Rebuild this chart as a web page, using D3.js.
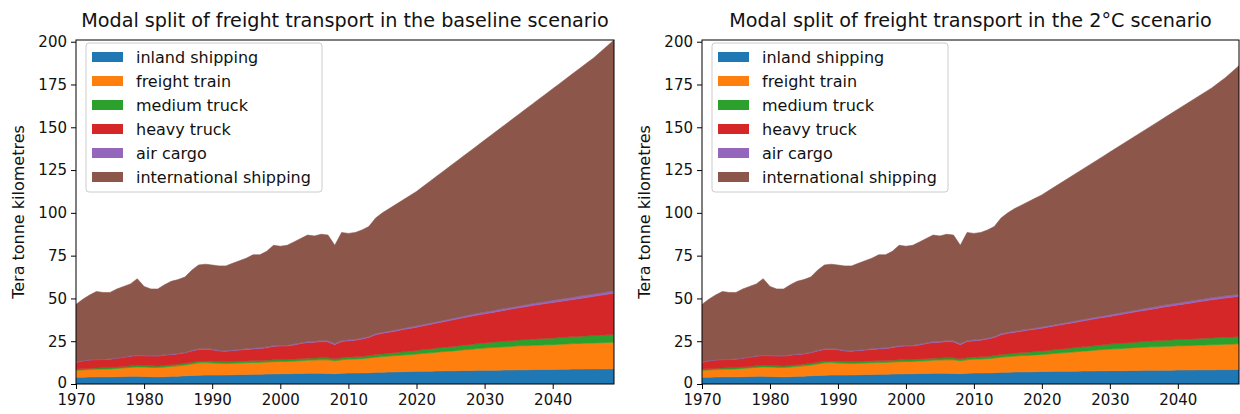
<!DOCTYPE html>
<html>
<head>
<meta charset="utf-8">
<script src="https://cdn.jsdelivr.net/npm/d3@7"></script>
<style>
  html, body { margin: 0; padding: 0; background: #fff; }
  svg { display: block; font-family: "DejaVu Sans", sans-serif; }
</style>
</head>
<body>
<svg id="chart" width="1240" height="414"></svg>
<script>
// ---------------- DATA ----------------
const years = d3.range(1970, 2050);            // 1970 … 2049
const seriesNames = ["inland shipping", "freight train", "medium truck", "heavy truck", "air cargo", "international shipping"];
const seriesColors = ["#1f77b4", "#ff7f0e", "#2ca02c", "#d62728", "#9467bd", "#8c564b"];
const titles = ["Modal split of freight transport in the baseline scenario", "Modal split of freight transport in the 2°C scenario"];
const yLabel = "Tera tonne kilometres";
const xTicks = [1970, 1980, 1990, 2000, 2010, 2020, 2030, 2040];
const yTicks = [0, 25, 50, 75, 100, 125, 150, 175, 200];

// historical part 1970–2015 (shared by both scenarios)
const histInland = [3.9, 4.0, 4.1, 4.2, 4.2, 4.2, 4.3, 4.4, 4.5, 4.6, 4.4, 4.3, 4.2, 4.3, 4.5, 4.6, 4.8, 5.0, 5.1, 5.2, 5.2, 5.2, 5.3, 5.4, 5.5, 5.6, 5.7, 5.7, 5.8, 5.9, 6.0, 6.0, 6.1, 6.2, 6.3, 6.3, 6.3, 6.2, 6.0, 6.3, 6.4, 6.4, 6.5, 6.6, 6.8, 6.9];
const histTrain = [4.1, 4.2, 4.3, 4.4, 4.5, 4.6, 4.8, 5.0, 5.2, 5.4, 5.5, 5.4, 5.4, 5.6, 5.8, 6.0, 6.3, 6.7, 7.3, 7.3, 7.1, 6.9, 6.7, 6.7, 6.8, 6.8, 6.9, 6.9, 7.0, 7.1, 7.2, 7.2, 7.3, 7.4, 7.6, 7.7, 7.8, 7.9, 7.6, 7.8, 8.1, 8.2, 8.3, 8.6, 8.9, 9.1];
const histMedium = [0.7, 0.7, 0.7, 0.8, 0.8, 0.8, 0.8, 0.8, 0.9, 0.9, 0.9, 0.9, 0.9, 0.9, 0.9, 1.0, 1.0, 1.0, 1.0, 1.0, 1.0, 1.0, 1.0, 1.0, 1.0, 1.1, 1.1, 1.1, 1.1, 1.1, 1.1, 1.1, 1.2, 1.2, 1.2, 1.2, 1.2, 1.2, 1.1, 1.2, 1.2, 1.3, 1.3, 1.4, 1.5, 1.6];
const histHeavy = [3.9, 4.6, 4.9, 4.8, 4.8, 4.9, 5.1, 5.4, 5.6, 5.7, 5.7, 5.7, 5.8, 6.0, 6.1, 6.0, 6.1, 6.6, 6.8, 6.8, 6.7, 6.2, 6.2, 6.4, 6.5, 6.7, 6.8, 7.0, 7.3, 7.9, 7.9, 7.9, 8.2, 8.8, 9.2, 9.2, 9.5, 9.3, 8.3, 9.5, 9.5, 9.7, 10.2, 10.6, 11.6, 12.0];
const histAir = [0.2, 0.2, 0.2, 0.2, 0.2, 0.2, 0.2, 0.2, 0.3, 0.3, 0.3, 0.3, 0.3, 0.3, 0.3, 0.3, 0.3, 0.4, 0.4, 0.4, 0.4, 0.4, 0.4, 0.4, 0.4, 0.5, 0.5, 0.5, 0.5, 0.5, 0.5, 0.5, 0.5, 0.5, 0.6, 0.6, 0.6, 0.6, 0.6, 0.6, 0.6, 0.6, 0.6, 0.6, 0.7, 0.7];
const histIntl = [33.7, 35.8, 37.8, 39.6, 39.0, 38.8, 40.3, 41.2, 42.0, 44.6, 40.2, 38.9, 38.9, 40.9, 42.4, 43.1, 44.0, 46.8, 48.9, 49.3, 49.1, 49.3, 49.4, 50.6, 51.8, 52.8, 54.5, 54.3, 55.8, 58.5, 57.8, 58.3, 59.7, 60.9, 62.1, 61.5, 62.1, 61.8, 57.4, 63.1, 62.2, 62.3, 63.1, 64.2, 67.5, 69.7];

// baseline projections 2016–2049
const baseInland = [7.0, 7.1, 7.2, 7.3, 7.4, 7.5, 7.5, 7.6, 7.7, 7.7, 7.8, 7.9, 7.9, 8.0, 8.0, 8.1, 8.1, 8.2, 8.2, 8.3, 8.3, 8.4, 8.4, 8.5, 8.5, 8.6, 8.6, 8.7, 8.7, 8.8, 8.8, 8.8, 8.9, 8.9];
const baseTrain = [9.3, 9.5, 9.7, 9.9, 10.1, 10.4, 10.7, 11.0, 11.3, 11.5, 11.8, 12.1, 12.4, 12.7, 13.0, 13.2, 13.4, 13.6, 13.8, 14.0, 14.1, 14.2, 14.3, 14.4, 14.5, 14.6, 14.8, 14.9, 15.0, 15.1, 15.2, 15.3, 15.4, 15.5];
const baseMedium = [1.7, 1.8, 1.9, 2.0, 2.1, 2.2, 2.3, 2.4, 2.5, 2.6, 2.6, 2.7, 2.8, 2.9, 3.0, 3.1, 3.2, 3.3, 3.3, 3.4, 3.5, 3.6, 3.7, 3.8, 3.8, 3.9, 4.0, 4.1, 4.2, 4.2, 4.3, 4.4, 4.5, 4.6];
const baseHeavy = [12.3, 12.6, 13.0, 13.3, 13.6, 13.9, 14.3, 14.6, 14.9, 15.4, 15.8, 16.1, 16.5, 16.7, 17.0, 17.3, 17.7, 18.0, 18.5, 18.8, 19.2, 19.6, 20.0, 20.3, 20.8, 21.1, 21.4, 21.7, 22.1, 22.5, 22.9, 23.3, 23.6, 24.0];
const baseAir = [0.7, 0.7, 0.7, 0.8, 0.8, 0.8, 0.8, 0.8, 0.9, 0.9, 0.9, 0.9, 1.0, 1.0, 1.0, 1.0, 1.1, 1.1, 1.1, 1.1, 1.2, 1.2, 1.2, 1.2, 1.3, 1.3, 1.3, 1.3, 1.4, 1.4, 1.4, 1.4, 1.5, 1.5];
const baseIntl = [71.5, 73.3, 75.0, 76.7, 78.5, 80.7, 82.9, 85.1, 87.2, 89.4, 91.6, 93.8, 95.9, 98.2, 100.5, 102.8, 105.0, 107.3, 109.6, 111.9, 114.2, 116.5, 118.9, 121.3, 123.6, 126.0, 128.4, 130.8, 133.1, 135.5, 137.9, 140.8, 143.6, 146.5];

// 2°C projections 2016–2049
const twoCInland = [7.0, 7.1, 7.1, 7.2, 7.3, 7.3, 7.4, 7.4, 7.5, 7.5, 7.6, 7.6, 7.7, 7.7, 7.8, 7.8, 7.8, 7.9, 7.9, 8.0, 8.0, 8.0, 8.1, 8.1, 8.2, 8.2, 8.2, 8.3, 8.3, 8.3, 8.4, 8.4, 8.4, 8.5];
const twoCTrain = [9.3, 9.5, 9.6, 9.8, 10.0, 10.2, 10.5, 10.8, 11.0, 11.3, 11.6, 11.9, 12.1, 12.4, 12.6, 12.8, 13.0, 13.2, 13.4, 13.5, 13.7, 13.8, 13.9, 14.0, 14.1, 14.2, 14.3, 14.4, 14.5, 14.6, 14.7, 14.8, 14.9, 15.0];
const twoCMedium = [1.7, 1.8, 1.9, 2.0, 2.0, 2.1, 2.2, 2.3, 2.4, 2.5, 2.5, 2.6, 2.7, 2.8, 2.9, 3.0, 3.0, 3.1, 3.2, 3.3, 3.4, 3.4, 3.5, 3.6, 3.7, 3.7, 3.8, 3.9, 4.0, 4.0, 4.1, 4.2, 4.2, 4.3];
const twoCHeavy = [12.2, 12.4, 12.9, 13.0, 13.3, 13.7, 13.9, 14.2, 14.5, 14.8, 15.1, 15.4, 15.7, 16.0, 16.2, 16.6, 17.1, 17.4, 17.8, 18.2, 18.5, 19.1, 19.5, 19.9, 20.2, 20.7, 21.1, 21.4, 21.8, 22.3, 22.5, 22.8, 23.2, 23.4];
const twoCAir = [0.7, 0.7, 0.7, 0.7, 0.8, 0.8, 0.8, 0.8, 0.8, 0.9, 0.9, 0.9, 0.9, 0.9, 1.0, 1.0, 1.0, 1.0, 1.0, 1.1, 1.1, 1.1, 1.1, 1.1, 1.2, 1.2, 1.2, 1.2, 1.2, 1.3, 1.3, 1.3, 1.3, 1.3];
const twoCIntl = [71.6, 73.0, 74.3, 75.8, 77.1, 78.9, 80.7, 82.5, 84.3, 86.0, 87.8, 89.6, 91.4, 93.2, 95.0, 96.8, 98.6, 100.4, 102.2, 103.9, 105.8, 107.6, 109.4, 111.3, 113.1, 115.0, 116.9, 118.8, 120.7, 122.5, 125.0, 127.5, 130.5, 133.5];

// ---------------- BUILD TABLES ----------------
function buildRows(parts) {
  return years.map((yr, i) => {
    const row = { year: yr };
    seriesNames.forEach((name, k) => { row[name] = parts[k][i]; });
    return row;
  });
}
const baselineRows = buildRows([
  histInland.concat(baseInland), histTrain.concat(baseTrain), histMedium.concat(baseMedium),
  histHeavy.concat(baseHeavy), histAir.concat(baseAir), histIntl.concat(baseIntl)]);
const twoCRows = buildRows([
  histInland.concat(twoCInland), histTrain.concat(twoCTrain), histMedium.concat(twoCMedium),
  histHeavy.concat(twoCHeavy), histAir.concat(twoCAir), histIntl.concat(twoCIntl)]);

// ---------------- DRAW ----------------
const svg = d3.select("#chart");
const stack = d3.stack().keys(seriesNames);
const yMax = d3.max(baselineRows, r => d3.sum(seriesNames, k => r[k]));

const panels = [
  { rows: baselineRows, title: titles[0], left: 76, right: 614, labelX: 18 },
  { rows: twoCRows, title: titles[1], left: 702, right: 1239, labelX: 644 }
];
const plotTop = 40, plotBottom = 384;
const fontSize = 16;
const tickFont = 15;

panels.forEach(p => {
  const x = d3.scaleLinear().domain([years[0], years[years.length - 1]]).range([p.left, p.right]);
  const y = d3.scaleLinear().domain([0, yMax]).range([plotBottom, plotTop]);
  const g = svg.append("g");
  const clipId = "clip" + p.left;
  g.append("clipPath").attr("id", clipId).append("rect")
    .attr("x", p.left).attr("y", plotTop).attr("width", p.right - p.left).attr("height", plotBottom - plotTop);

  const area = d3.area().x(d => x(d.data.year)).y0(d => y(d[0])).y1(d => y(d[1]));
  const layers = stack(p.rows);
  g.append("g").attr("clip-path", `url(#${clipId})`)
    .selectAll("path").data(layers).join("path")
    .attr("d", area)
    .attr("fill", (d, i) => seriesColors[i])
    .attr("stroke", (d, i) => seriesColors[i])
    .attr("stroke-width", 0.6);

  // axes
  const xAxis = d3.axisBottom(x).tickValues(xTicks).tickFormat(d3.format("d")).tickSize(5).tickPadding(5);
  const yAxis = d3.axisLeft(y).tickValues(yTicks).tickSize(5).tickPadding(4);
  const gx = g.append("g").attr("transform", `translate(0,${plotBottom})`).call(xAxis);
  const gy = g.append("g").attr("transform", `translate(${p.left},0)`).call(yAxis);
  [gx, gy].forEach(a => {
    a.select(".domain").remove();
    a.selectAll("text").attr("font-size", tickFont).attr("font-family", "DejaVu Sans").attr("fill", "#111");
    a.selectAll("line").attr("stroke", "#000").attr("stroke-width", 1);
  });
  // lift the y-axis "0" label a touch so it does not collide with the first year label
  gy.selectAll(".tick").filter(d => d === 0).select("text").attr("dy", "0.2em");

  // frame
  g.append("rect").attr("x", p.left).attr("y", plotTop)
    .attr("width", p.right - p.left).attr("height", plotBottom - plotTop)
    .attr("fill", "none").attr("stroke", "#000").attr("stroke-width", 1);

  // title
  g.append("text").attr("x", (p.left + p.right) / 2).attr("y", 27)
    .attr("text-anchor", "middle").attr("font-size", 19.2).attr("fill", "#111").text(p.title);

  // y label
  g.append("text").attr("transform", `translate(${p.labelX},${(plotTop + plotBottom) / 2}) rotate(-90)`)
    .attr("text-anchor", "middle").attr("dominant-baseline", "central")
    .attr("font-size", fontSize).attr("fill", "#111").text(yLabel);

  // legend
  const lx = p.left + 10, ly = plotTop + 3, lw = 236, lh = 149, rowH = 24;
  const lg = g.append("g");
  lg.append("rect").attr("x", lx).attr("y", ly).attr("width", lw).attr("height", lh)
    .attr("rx", 3).attr("fill", "#fff").attr("fill-opacity", 0.8)
    .attr("stroke", "#cccccc").attr("stroke-width", 1);
  seriesNames.forEach((name, i) => {
    const cy = ly + 14 + i * rowH;
    lg.append("rect").attr("x", lx + 6).attr("y", cy - 5).attr("width", 31).attr("height", 10)
      .attr("fill", seriesColors[i]);
    lg.append("text").attr("x", lx + 50).attr("y", cy).attr("dominant-baseline", "central")
      .attr("font-size", fontSize).attr("fill", "#111").text(name);
  });
});
</script>
</body>
</html>
